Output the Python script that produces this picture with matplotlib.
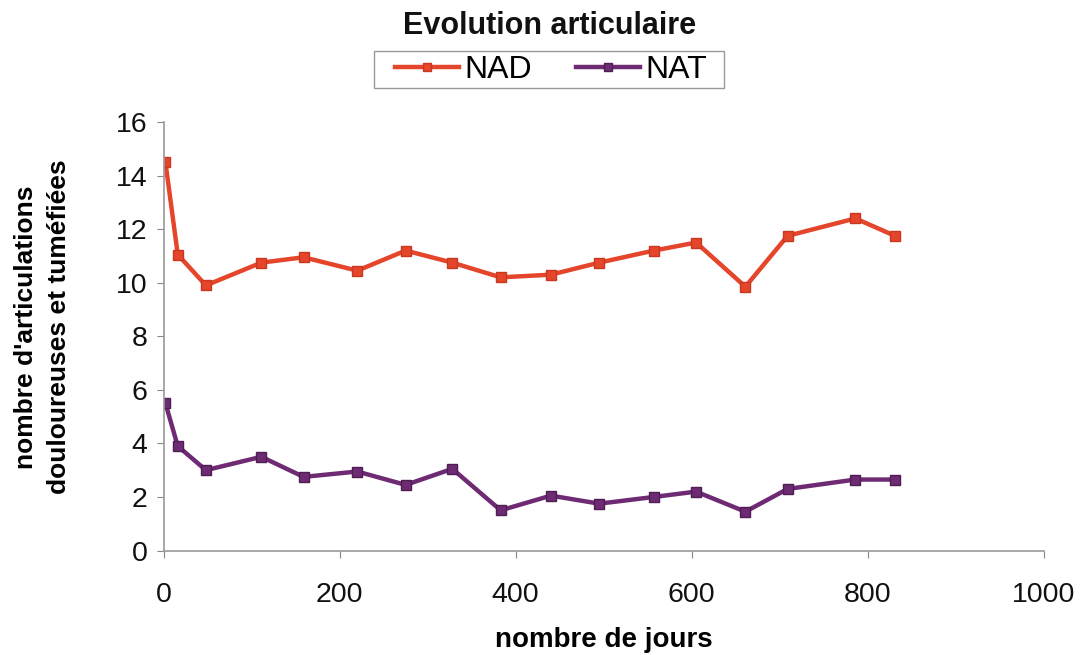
import matplotlib
matplotlib.use("Agg")
import matplotlib.pyplot as plt
from matplotlib.patches import Rectangle

days = [2, 16, 48, 111, 159, 220, 275, 328, 383, 440, 495, 557, 605, 661, 709, 786, 831]
nad = [14.5, 11.05, 9.9, 10.75, 10.95, 10.45, 11.2, 10.75, 10.2, 10.3, 10.75, 11.2, 11.5, 9.85, 11.75, 12.4, 11.75]
nat = [5.5, 3.9, 3.0, 3.5, 2.75, 2.95, 2.45, 3.05, 1.5, 2.05, 1.75, 2.0, 2.2, 1.45, 2.3, 2.65, 2.65]

xticks = [0, 200, 400, 600, 800, 1000]
yticks = [0, 2, 4, 6, 8, 10, 12, 14, 16]

plt.rcParams['font.family'] = ['Liberation Sans', 'DejaVu Sans']

W, H = 1081, 655
fig = plt.figure(figsize=(W / 100, H / 100), dpi=100)
ax = fig.add_axes([0.1514, 0.1595, 0.8141, 0.6542])

c_nad = '#E5452B'
c_nat = '#6E2B73'
ax.plot(days, nad, color=c_nad, lw=3.2, marker='s', ms=7, mfc=c_nad, mec='#C8381F', label='NAD')
ax.plot(days, nat, color=c_nat, lw=3.2, marker='s', ms=7, mfc=c_nat, mec='#4E1D52', label='NAT')

ax.set_xlim(0, 1000)
ax.set_ylim(0, 16)
ax.set_xticks(xticks)
ax.set_yticks(yticks)
ax.tick_params(axis='both', labelsize=20.5, direction='out', length=5, color='#888888', labelcolor='#111111')
ax.tick_params(axis='x', pad=18)
ax.tick_params(axis='y', pad=6.5)
for s in ['top', 'right']:
    ax.spines[s].set_visible(False)
for s in ['left', 'bottom']:
    ax.spines[s].set_color('#999999')
    ax.spines[s].set_linewidth(1.2)

ax.set_xlabel('nombre de jours', fontsize=20, fontweight='bold', va='top')
ax.xaxis.set_label_coords(0.5, -0.178)
ax.set_ylabel("nombre d'articulations\ndouloureuses et tuméfiées", fontsize=19, fontweight='bold', linespacing=1.5)
ax.yaxis.set_label_coords(-0.105, 0.522)

fig.text(550 / W, 1 - 26 / H, 'Evolution articulaire', ha='center', va='center', fontsize=22, fontweight='bold', color='#111111')

leg = fig.legend(loc='center', bbox_to_anchor=(551 / W, 1 - 70 / H), ncol=2, fontsize=23, frameon=False,
                 handlelength=2.0, handletextpad=0.15, columnspacing=1.4, borderpad=0.1, markerscale=0.8)
fig.patches.append(Rectangle((374 / W, 1 - 88 / H), 350 / W, 37 / H, transform=fig.transFigure,
                             fill=False, edgecolor='#999999', linewidth=1.0))

fig.savefig('out.png', dpi=100)
